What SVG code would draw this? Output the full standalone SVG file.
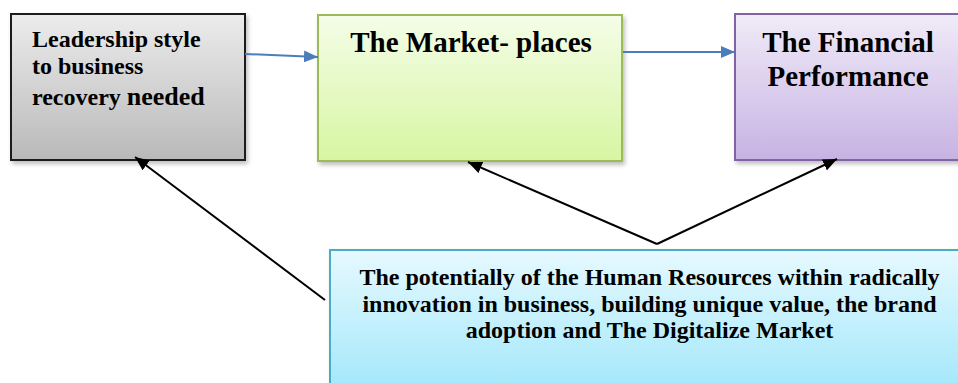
<svg xmlns="http://www.w3.org/2000/svg" width="958" height="383" viewBox="0 0 958 383">
<style>
text{font-family:"Liberation Serif","Times New Roman",serif;font-weight:bold;fill:#000}
.box{stroke-width:2}
.blue{stroke:#4a7ebb;stroke-width:2;fill:none}
.blk{stroke:#000;stroke-width:2;fill:none}
</style>
<defs>
<linearGradient id="gGray" x1="0" y1="0" x2="0" y2="1"><stop offset="0" stop-color="#ececec"/><stop offset="1" stop-color="#b9b9b9"/></linearGradient>
<linearGradient id="gGreen" x1="0" y1="0" x2="0" y2="1"><stop offset="0" stop-color="#f4fde8"/><stop offset="1" stop-color="#d7f6a2"/></linearGradient>
<linearGradient id="gPurple" x1="0" y1="0" x2="0" y2="1"><stop offset="0" stop-color="#f0ebf8"/><stop offset="1" stop-color="#c7b3e3"/></linearGradient>
<linearGradient id="gCyan" x1="0" y1="0" x2="0" y2="1"><stop offset="0" stop-color="#e6f9fe"/><stop offset="1" stop-color="#9fe6fb"/></linearGradient>
<filter id="sh" x="-10%" y="-10%" width="120%" height="130%"><feDropShadow dx="2" dy="3" stdDeviation="2" flood-color="#000" flood-opacity="0.25"/></filter>
<marker id="aBlue" markerUnits="userSpaceOnUse" markerWidth="14" markerHeight="12" viewBox="0 0 14 12" refX="14" refY="6" orient="auto"><path d="M0,0 L14,6 L0,12 z" fill="#4a7ebb"/></marker>
<marker id="aBlk" markerUnits="userSpaceOnUse" markerWidth="14" markerHeight="12" viewBox="0 0 14 12" refX="14" refY="6" orient="auto"><path d="M0,0 L14,6 L0,12 z" fill="#000"/></marker>
</defs>
<g id="node-leadership">
<rect class="box" x="11" y="14" width="234" height="146" fill="url(#gGray)" stroke="#1a1a1a" filter="url(#sh)"/>
<text x="32" y="47" font-size="24">Leadership style</text>
<text x="32" y="74" font-size="24">to business</text>
<text x="32" y="105" font-size="24">recovery <tspan font-size="26">needed</tspan></text>
</g>
<g id="node-market">
<rect class="box" x="318" y="15" width="304" height="146" fill="url(#gGreen)" stroke="#9bbb59" filter="url(#sh)"/>
<text x="471" y="52" font-size="29" text-anchor="middle">The Market- places</text>
</g>
<g id="node-financial">
<rect class="box" x="735" y="14" width="240" height="146" fill="url(#gPurple)" stroke="#8064a2" filter="url(#sh)"/>
<text x="848" y="52" font-size="29" text-anchor="middle">The Financial</text>
<text x="848" y="86" font-size="29" text-anchor="middle">Performance</text>
</g>
<g id="node-hr">
<rect class="box" x="330" y="250" width="640" height="150" fill="url(#gCyan)" stroke="#4bacc6" filter="url(#sh)"/>
<text x="649.5" y="285" font-size="24" text-anchor="middle">The potentially of the Human Resources within radically</text>
<text x="649.5" y="312" font-size="24" text-anchor="middle">innovation in business, building unique value, the brand</text>
<text x="649.5" y="338" font-size="24" text-anchor="middle">adoption and The Digitalize Market</text>
</g>
<g id="connectors">
<line class="blue" x1="245" y1="54" x2="318" y2="57" marker-end="url(#aBlue)"/>
<line class="blue" x1="623" y1="52" x2="735" y2="52" marker-end="url(#aBlue)"/>
<line class="blk" x1="325" y1="300" x2="135" y2="157" marker-end="url(#aBlk)"/>
<line class="blk" x1="657" y1="244" x2="468" y2="162" marker-end="url(#aBlk)"/>
<line class="blk" x1="657" y1="244" x2="837" y2="159" marker-end="url(#aBlk)"/>
</g>
</svg>
